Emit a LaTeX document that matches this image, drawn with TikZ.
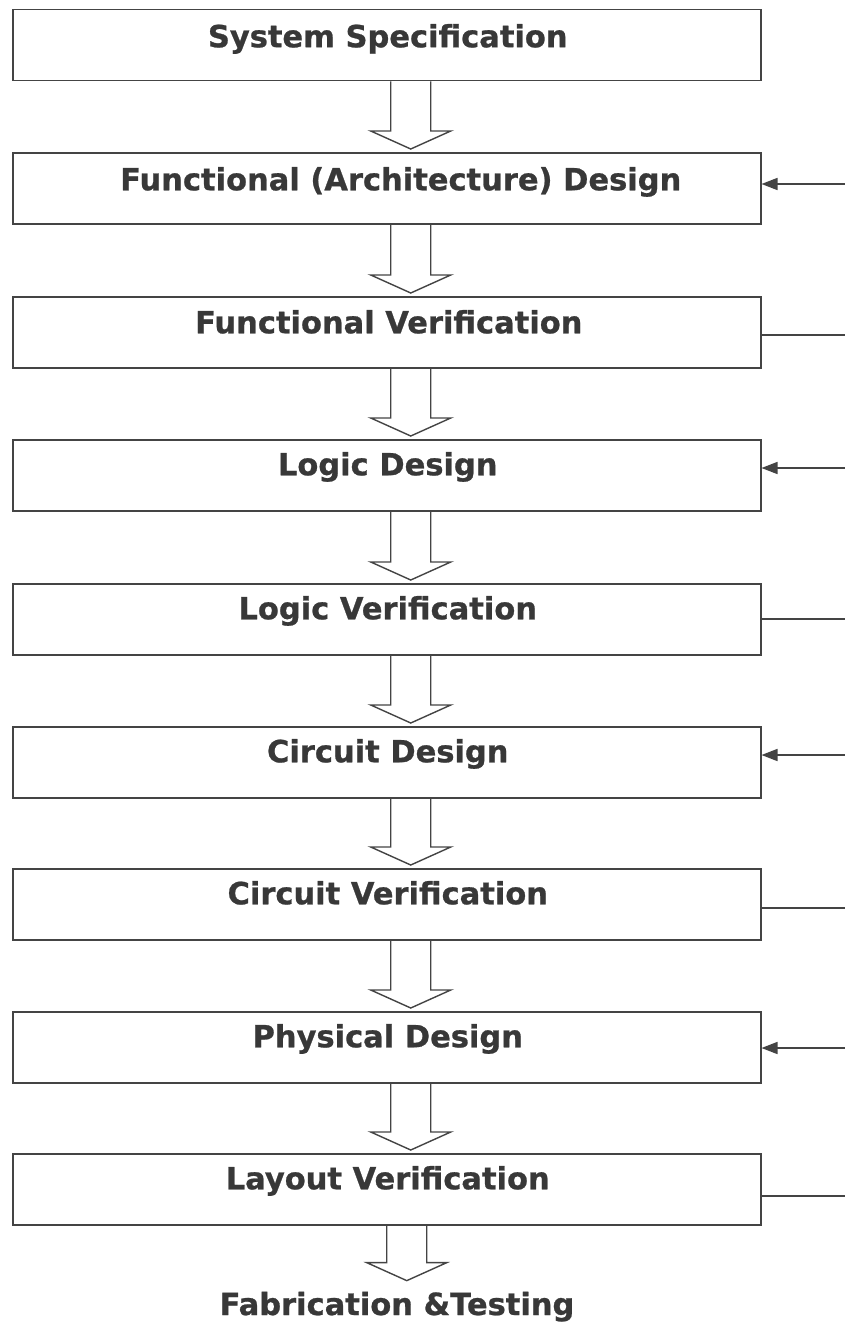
\documentclass[tikz,border=0pt]{standalone}
\usepackage{fontspec}
\setmainfont[FakeBold=0.8]{DejaVu Sans}
\usetikzlibrary{calc,arrows.meta}
\definecolor{ink}{HTML}{383838}
\definecolor{edge}{HTML}{444444}
\tikzset{
  stagebox/.style={draw=edge, line width=1.5pt, minimum width=748pt, minimum height=71pt, inner sep=0pt, anchor=north west},
  stagetext/.style={anchor=base, text=ink, font=\fontsize{30.5}{36}\selectfont\bfseries, inner sep=0pt},
  hollowarrow/.style={draw=edge, line width=1.4pt, line join=miter},
  feed/.style={draw=edge, line width=1.6pt},
  feedin/.style={feed, -{Triangle[length=16pt,width=12pt]}},
}
\newcommand{\hollowarr}[2]{%
  \draw[hollowarrow] ($(#1)+(-20,0)$) -- ($(#2)+(-20,-18)$) -- ($(#2)+(-40,-18)$) -- (#2) -- ($(#2)+(40,-18)$) -- ($(#2)+(20,-18)$) -- ($(#1)+(20,0)$);}
\begin{document}
\begin{tikzpicture}[x=1pt,y=-1pt]
\useasboundingbox[fill=white] (0,0) rectangle (844,1327);
% boxes
\node[stagebox] (b1) at (12,9) {};
\node[stagebox] (b2) at (12,152) {};
\node[stagebox] (b3) at (12,296) {};
\node[stagebox] (b4) at (12,439) {};
\node[stagebox] (b5) at (12,583) {};
\node[stagebox] (b6) at (12,726) {};
\node[stagebox] (b7) at (12,868) {};
\node[stagebox] (b8) at (12,1011) {};
\node[stagebox] (b9) at (12,1153) {};
% texts
\node[stagetext] (t1) at ($(b1.center)+(1,2)$) {System Specification};
\node[stagetext] (t2) at ($(b2.center)+(14,2)$) {Functional (Architecture) Design};
\node[stagetext] (t3) at ($(b3.center)+(2,1)$) {Functional Verification};
\node[stagetext] (t4) at ($(b4.center)+(1,0)$) {Logic Design};
\node[stagetext] (t5) at ($(b5.center)+(1,0)$) {Logic Verification};
\node[stagetext] (t6) at ($(b6.center)+(1,0)$) {Circuit Design};
\node[stagetext] (t7) at ($(b7.center)+(1,0)$) {Circuit Verification};
\node[stagetext] (t8) at ($(b8.center)+(1,0)$) {Physical Design};
\node[stagetext] (t9) at ($(b9.center)+(1,0)$) {Layout Verification};
\node[stagetext] (t10) at (397,1315) {Fabrication \&Testing};
% hollow block arrows
\foreach \a/\b in {b1/b2,b2/b3,b3/b4,b4/b5,b5/b6,b6/b7,b7/b8,b8/b9}{
  \path (\a.south) ++(24,0) coordinate (s-\a);
  \path (\b.north) ++(24,-3) coordinate (e-\b);
  \hollowarr{s-\a}{e-\b}
}
\path (b9.south) ++(20,0) coordinate (s-b9);
\path (s-b9 |- t10.north) ++(0,-11) coordinate (e-t10);
\hollowarr{s-b9}{e-t10}
% right-hand feed lines
\coordinate (r2) at (850,184);
\coordinate (r3) at (850,335);
\coordinate (r4) at (850,468);
\coordinate (r5) at (850,619);
\coordinate (r6) at (850,755);
\coordinate (r7) at (850,908);
\coordinate (r8) at (850,1048);
\coordinate (r9) at (850,1196);
\draw[feedin] (r2) -- (r2 -| b2.east);
\draw[feed] (r3) -- (r3 -| b3.east);
\draw[feedin] (r4) -- (r4 -| b4.east);
\draw[feed] (r5) -- (r5 -| b5.east);
\draw[feedin] (r6) -- (r6 -| b6.east);
\draw[feed] (r7) -- (r7 -| b7.east);
\draw[feedin] (r8) -- (r8 -| b8.east);
\draw[feed] (r9) -- (r9 -| b9.east);
\end{tikzpicture}
\end{document}
